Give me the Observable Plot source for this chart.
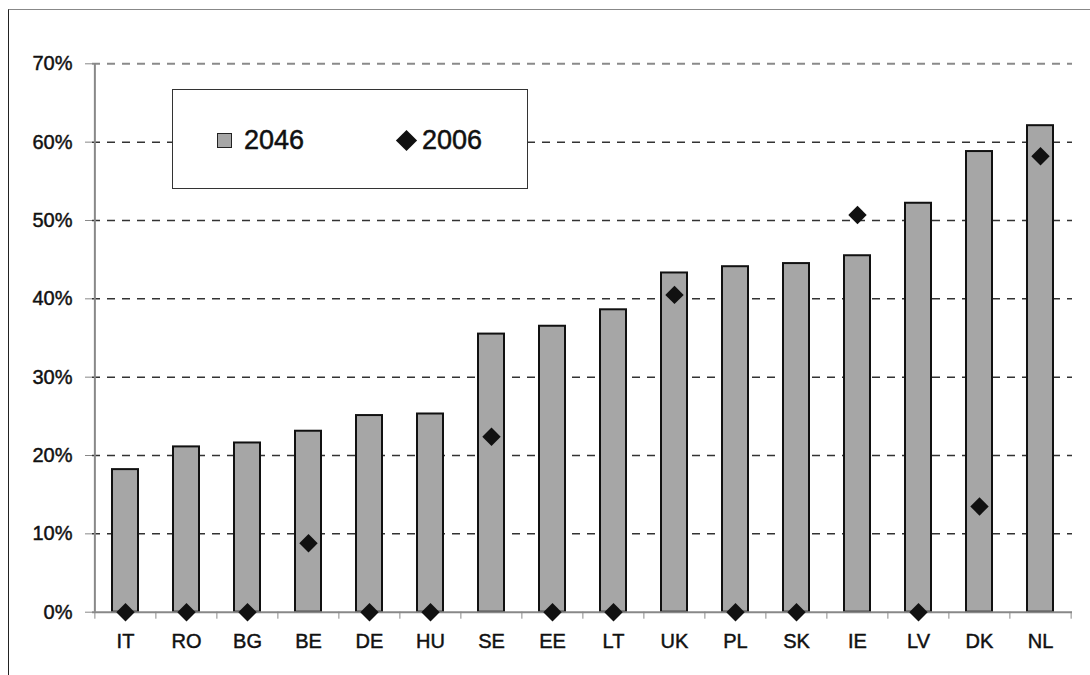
<!DOCTYPE html>
<html><head><meta charset="utf-8">
<script src="https://cdn.jsdelivr.net/npm/d3@7"></script>
<script src="https://cdn.jsdelivr.net/npm/@observablehq/plot@0.6"></script>
<style>
body{margin:0;background:#fff;font-family:Arial,"Liberation Sans",sans-serif;}
#wrap{position:relative;width:1090px;height:675px;overflow:hidden;}
#frame{position:absolute;left:8px;top:9px;right:-5px;bottom:-5px;border-left:1.5px solid #222;border-top:1.5px solid #888;}
#chart{position:absolute;left:0;top:0;}
#chart svg text{stroke:#111;stroke-width:0.45px;}
#legend{position:absolute;left:172px;top:89px;width:356px;height:100px;border:1.5px solid #333;background:#fff;box-sizing:border-box;font-size:27px;color:#111;-webkit-text-stroke:0.5px #111;}
.item{position:absolute;top:0;height:100px;display:flex;align-items:center;}
.sq{width:15px;height:15px;background:#a6a6a6;border:1.5px solid #222;margin-right:12px;box-sizing:border-box;}
.dm{width:15px;height:15px;background:#111;transform:rotate(45deg);margin-right:8px;margin-left:3px;}
</style></head>
<body><div id="wrap"><div id="frame"></div><div id="chart"></div><div id="legend"></div></div>
<script>
const countries = ["IT","RO","BG","BE","DE","HU","SE","EE","LT","UK","PL","SK","IE","LV","DK","NL"];
const v2046 = [18.2,21.1,21.6,23.1,25.1,25.3,35.5,36.5,38.6,43.3,44.1,44.5,45.5,52.2,58.8,62.1];
const v2006 = [0,0,0,8.8,0,0,22.4,0,0,40.5,0,0,50.7,0,13.5,58.2];
const yTicks = [0,10,20,30,40,50,60,70];
const series = ["2046","2006"];

const data = countries.map((c,i)=>({country:c, v46:v2046[i]/100, v06:v2006[i]/100}));
const W=1090, H=675, mL=92, mR=18, mT=63.3, mB=63.3;
const step = (W-mL-mR)/countries.length;
const font = "Arial, 'Liberation Sans', sans-serif";

const chart = Plot.plot({
  width:W, height:H, marginLeft:mL, marginRight:mR, marginTop:mT, marginBottom:mB,
  style:{fontFamily:font, background:"transparent", color:"#111"},
  x:{domain:countries, paddingInner:0.58, paddingOuter:0.29, axis:null},
  y:{domain:[0,0.7], axis:null},
  marks:[
    Plot.ruleY(yTicks.filter(t=>t>0&&t<70).map(t=>t/100), {stroke:"#333", strokeDasharray:"8,7", strokeWidth:1.5}),
    Plot.ruleY([0.7], {stroke:"#8a8a8a", strokeDasharray:"8,7", strokeWidth:2}),
    Plot.barY(data, {x:"country", y:"v46", fill:"#a6a6a6", stroke:"#111", strokeWidth:2}),
    Plot.ruleX([countries[0]], {dx:-step/2, stroke:"#888", strokeWidth:2}),
    Plot.ruleY([0], {stroke:"#888", strokeWidth:2}),
    Plot.axisY({ticks:yTicks.map(t=>t/100), tickFormat:d=>Math.round(d*100)+"%", tickSize:7, tickPadding:13, fontSize:20, stroke:"#888", fill:"#111", label:null}),
    Plot.axisX({ticks:countries, tickSize:7, tickFormat:()=>"", dx:-step/2, stroke:"#888", label:null}),
    Plot.axisX({ticks:[countries[countries.length-1]], tickSize:7, tickFormat:()=>"", dx:step/2, stroke:"#888", label:null}),
    Plot.axisX({ticks:countries, tickSize:0, tickPadding:22, fontSize:20, fill:"#111", label:null}),
    Plot.dot(data, {x:"country", y:"v06", symbol:"diamond2", r:8.3, fill:"#111", stroke:"none"})
  ]
});
document.getElementById("chart").appendChild(chart);

const lg = document.getElementById("legend");
lg.innerHTML = `<div class="item" style="left:44px"><div class="sq"></div><span>${series[0]}</span></div>
<div class="item" style="left:223px"><div class="dm"></div><span>${series[1]}</span></div>`;
</script>
</body></html>
